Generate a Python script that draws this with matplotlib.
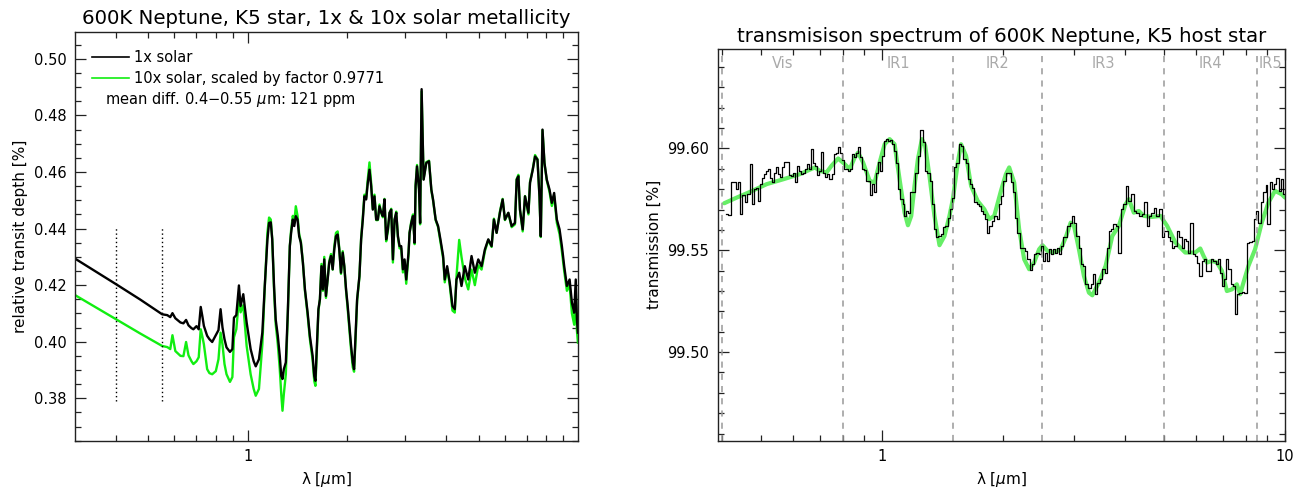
import matplotlib
matplotlib.use('Agg')
import matplotlib.pyplot as plt
from matplotlib.ticker import MultipleLocator, FixedLocator, NullFormatter, FormatStrFormatter
import numpy as np

# ---- left panel: model transit depth [%] (1x and scaled 10x solar) ----
wl_model = [0.300, 0.400, 0.473, 0.551, 0.571, 0.583, 0.592, 0.604, 0.626, 0.639,
            0.651, 0.662, 0.676, 0.685, 0.700, 0.711, 0.721, 0.730, 0.737, 0.754,
            0.766, 0.781, 0.801, 0.816, 0.828, 0.839, 0.851, 0.863, 0.884, 0.899,
            0.909, 0.924, 0.941, 0.952, 0.970, 0.993, 1.021, 1.043, 1.058, 1.082,
            1.108, 1.126, 1.148, 1.161, 1.175, 1.187, 1.202, 1.216, 1.234, 1.251,
            1.264, 1.275, 1.287, 1.305, 1.323, 1.342, 1.354, 1.370, 1.384, 1.399,
            1.416, 1.432, 1.449, 1.470, 1.491, 1.519, 1.543, 1.573, 1.591, 1.604,
            1.621, 1.638, 1.655, 1.673, 1.690, 1.706, 1.726, 1.747, 1.766, 1.788,
            1.809, 1.829, 1.851, 1.873, 1.894, 1.917, 1.940, 1.962, 1.986, 2.009,
            2.032, 2.057, 2.081, 2.100, 2.122, 2.145, 2.180, 2.206, 2.232, 2.257,
            2.285, 2.311, 2.338, 2.366, 2.393, 2.421, 2.450, 2.479, 2.507, 2.537,
            2.567, 2.596, 2.627, 2.658, 2.689, 2.721, 2.753, 2.785, 2.818, 2.851,
            2.884, 2.917, 2.952, 2.986, 3.021, 3.070, 3.092, 3.129, 3.167, 3.203,
            3.225, 3.257, 3.303, 3.328, 3.363, 3.410, 3.475, 3.541, 3.599, 3.642,
            3.709, 3.772, 3.834, 3.907, 3.952, 4.018, 4.092, 4.170, 4.238, 4.288,
            4.370, 4.441, 4.545, 4.655, 4.763, 4.874, 4.992, 5.108, 5.227, 5.353,
            5.478, 5.567, 5.673, 5.805, 5.916, 6.012, 6.157, 6.300, 6.447, 6.525,
            6.603, 6.677, 6.804, 6.915, 7.082, 7.161, 7.298, 7.417, 7.543, 7.649,
            7.719, 7.811, 7.920, 8.049, 8.203, 8.337, 8.472, 8.634, 8.799, 8.942,
            9.088, 9.261, 9.437, 9.590, 9.745, 9.850, 9.930, 10.00]

depth_1x = [0.4294, 0.4203, 0.4149, 0.4097, 0.4094, 0.4087, 0.4101, 0.4083, 0.4068, 0.4065,
            0.4077, 0.4058, 0.4048, 0.4044, 0.4055, 0.4044, 0.4123, 0.4087, 0.4056, 0.4021,
            0.4009, 0.3999, 0.4023, 0.4041, 0.4115, 0.4051, 0.4009, 0.3980, 0.3964, 0.3974,
            0.4085, 0.4094, 0.4199, 0.4126, 0.4168, 0.4068, 0.3974, 0.3931, 0.3913, 0.3938,
            0.4033, 0.4191, 0.4362, 0.4420, 0.4422, 0.4362, 0.4197, 0.4079, 0.4021, 0.3950,
            0.3879, 0.3868, 0.3903, 0.3927, 0.4103, 0.4338, 0.4385, 0.4432, 0.4409, 0.4444,
            0.4432, 0.4373, 0.4350, 0.4279, 0.4185, 0.4103, 0.4021, 0.3950, 0.3879, 0.3862,
            0.3985, 0.4115, 0.4150, 0.4267, 0.4185, 0.4291, 0.4162, 0.4221, 0.4279, 0.4303,
            0.4256, 0.4326, 0.4373, 0.4379, 0.4326, 0.4244, 0.4315, 0.4267, 0.4185, 0.4126,
            0.4056, 0.3985, 0.3927, 0.3903, 0.4021, 0.4150, 0.4232, 0.4362, 0.4432, 0.4514,
            0.4503, 0.4562, 0.4608, 0.4550, 0.4467, 0.4514, 0.4432, 0.4432, 0.4479, 0.4457,
            0.4444, 0.4503, 0.4362, 0.4397, 0.4456, 0.4467, 0.4291, 0.4432, 0.4456, 0.4373,
            0.4338, 0.4338, 0.4256, 0.4291, 0.4220, 0.4315, 0.4385, 0.4420, 0.4444, 0.4350,
            0.4550, 0.4620, 0.4538, 0.4420, 0.4893, 0.4573, 0.4632, 0.4638, 0.4538, 0.4503,
            0.4432, 0.4409, 0.4362, 0.4303, 0.4220, 0.4267, 0.4209, 0.4126, 0.4115, 0.4220,
            0.4244, 0.4197, 0.4267, 0.4220, 0.4303, 0.4244, 0.4291, 0.4267, 0.4326, 0.4362,
            0.4338, 0.4432, 0.4385, 0.4456, 0.4503, 0.4432, 0.4456, 0.4409, 0.4420, 0.4573,
            0.4585, 0.4467, 0.4397, 0.4514, 0.4456, 0.4562, 0.4608, 0.4655, 0.4644, 0.4514,
            0.4373, 0.4750, 0.4632, 0.4573, 0.4538, 0.4491, 0.4526, 0.4432, 0.4397, 0.4338,
            0.4267, 0.4197, 0.4220, 0.4138, 0.4103, 0.4220, 0.4079, 0.4032]

depth_10x = [0.4165, 0.4079, 0.4029, 0.3985, 0.3981, 0.3974, 0.4023, 0.3967, 0.3950, 0.3949,
             0.3999, 0.3952, 0.3931, 0.3921, 0.3931, 0.3945, 0.4044, 0.4016, 0.3991, 0.3903,
             0.3889, 0.3885, 0.3896, 0.3938, 0.4032, 0.3991, 0.3921, 0.3885, 0.3858, 0.3875,
             0.4016, 0.4044, 0.4150, 0.4104, 0.4129, 0.3985, 0.3885, 0.3833, 0.3809, 0.3833,
             0.3991, 0.4185, 0.4386, 0.4439, 0.4432, 0.4362, 0.4185, 0.4062, 0.3991, 0.3903,
             0.3815, 0.3756, 0.3815, 0.3885, 0.4095, 0.4340, 0.4395, 0.4445, 0.4420, 0.4479,
             0.4445, 0.4380, 0.4355, 0.4280, 0.4180, 0.4095, 0.4010, 0.3935, 0.3861, 0.3844,
             0.3975, 0.4110, 0.4150, 0.4275, 0.4180, 0.4300, 0.4155, 0.4225, 0.4285, 0.4310,
             0.4255, 0.4335, 0.4385, 0.4390, 0.4330, 0.4240, 0.4320, 0.4265, 0.4180, 0.4115,
             0.4045, 0.3970, 0.3910, 0.3894, 0.4010, 0.4145, 0.4230, 0.4365, 0.4440, 0.4520,
             0.4510, 0.4575, 0.4634, 0.4560, 0.4470, 0.4520, 0.4430, 0.4430, 0.4485, 0.4455,
             0.4440, 0.4505, 0.4355, 0.4390, 0.4455, 0.4470, 0.4280, 0.4430, 0.4460, 0.4370,
             0.4330, 0.4330, 0.4245, 0.4285, 0.4205, 0.4310, 0.4385, 0.4425, 0.4450, 0.4345,
             0.4555, 0.4625, 0.4540, 0.4415, 0.4885, 0.4575, 0.4635, 0.4640, 0.4535, 0.4500,
             0.4430, 0.4405, 0.4355, 0.4295, 0.4210, 0.4260, 0.4200, 0.4110, 0.4103, 0.4230,
             0.4360, 0.4300, 0.4225, 0.4185, 0.4255, 0.4200, 0.4270, 0.4255, 0.4320, 0.4360,
             0.4335, 0.4435, 0.4385, 0.4460, 0.4505, 0.4430, 0.4455, 0.4405, 0.4415, 0.4575,
             0.4590, 0.4465, 0.4390, 0.4515, 0.4450, 0.4565, 0.4610, 0.4660, 0.4645, 0.4510,
             0.4370, 0.4748, 0.4630, 0.4570, 0.4530, 0.4480, 0.4515, 0.4420, 0.4380, 0.4320,
             0.4250, 0.4180, 0.4200, 0.4100, 0.4060, 0.4180, 0.4040, 0.3997]

diff_range = [0.4, 0.55]

# ---- right panel: binned transmission [%] and smooth model ----
wl_bin = [0.4098, 0.4176, 0.4246, 0.4307, 0.4361, 0.4417, 0.4475, 0.4534, 0.4600, 0.4663,
          0.4732, 0.4792, 0.4842, 0.4902, 0.4959, 0.5009, 0.5067, 0.5125, 0.5190, 0.5248,
          0.5303, 0.5363, 0.5425, 0.5487, 0.5550, 0.5613, 0.5677, 0.5742, 0.5831, 0.5898,
          0.5966, 0.6034, 0.6103, 0.6173, 0.6243, 0.6315, 0.6387, 0.6460, 0.6534, 0.6609,
          0.6685, 0.6761, 0.6839, 0.6917, 0.6997, 0.7077, 0.7158, 0.7240, 0.7323, 0.7407,
          0.7492, 0.7577, 0.7664, 0.7752, 0.7841, 0.7931, 0.8022, 0.8114, 0.8207, 0.8301,
          0.8396, 0.8493, 0.8590, 0.8688, 0.8788, 0.8889, 0.8991, 0.9093, 0.9197, 0.9302,
          0.9409, 0.9517, 0.9625, 0.9736, 0.9847, 0.9960, 1.0074, 1.0190, 1.0306, 1.0425,
          1.0544, 1.0664, 1.0787, 1.0910, 1.1035, 1.1162, 1.1335, 1.1401, 1.1532, 1.1671,
          1.1830, 1.1997, 1.2178, 1.2345, 1.2508, 1.2702, 1.2870, 1.3041, 1.3243, 1.3418,
          1.3573, 1.3729, 1.3887, 1.4078, 1.4264, 1.4452, 1.4651, 1.4820, 1.4989, 1.5169,
          1.5377, 1.5598, 1.5822, 1.6013, 1.6214, 1.6428, 1.6637, 1.6845, 1.7061, 1.7288,
          1.7505, 1.7707, 1.7906, 1.8113, 1.8340, 1.8582, 1.8850, 1.9121, 1.9374, 1.9617,
          1.9876, 2.0148, 2.0415, 2.0733, 2.1007, 2.1246, 2.1526, 2.1826, 2.2110, 2.2454,
          2.2793, 2.3116, 2.3437, 2.3714, 2.4012, 2.4330, 2.4636, 2.4946, 2.5230, 2.5493,
          2.5783, 2.6081, 2.6379, 2.6684, 2.6987, 2.7299, 2.7606, 2.7952, 2.8321, 2.8681,
          2.9027, 2.9424, 2.9779, 3.0151, 3.0549, 3.0938, 3.1325, 3.1739, 3.2195, 3.2712,
          3.3160, 3.3560, 3.3988, 3.4435, 3.4932, 3.5428, 3.5921, 3.6354, 3.6766, 3.7192,
          3.7701, 3.8262, 3.8857, 3.9416, 3.9937, 4.0512, 4.1068, 4.1803, 4.2445, 4.3056,
          4.3726, 4.4377, 4.5015, 4.5640, 4.6286, 4.6951, 4.7572, 4.8255, 4.9085, 4.9710,
          5.0217, 5.0857, 5.1517, 5.2174, 5.2802, 5.3562, 5.4320, 5.5076, 5.5739, 5.6437,
          5.7183, 5.7911, 5.8636, 5.9343, 6.0086, 6.0881, 6.1716, 6.2459, 6.3182, 6.4047,
          6.4999, 6.5917, 6.6834, 6.7640, 6.8391, 6.9259, 7.0181, 7.0929, 7.1784, 7.2778,
          7.3739, 7.4456, 7.5524, 7.6507, 7.7698, 7.8724, 7.9764, 8.0910, 8.2073, 8.3255,
          8.4297, 8.5353, 8.6482, 8.7727, 8.8991, 9.0001, 9.0939, 9.2184, 9.3404, 9.4485,
          9.5710, 9.7199, 9.8310, 9.9400]

trans_bin = [99.5680, 99.5671, 99.5833, 99.5836, 99.5800, 99.5833, 99.5677, 99.5770, 99.5737, 99.5775,
             99.5926, 99.5726, 99.5800, 99.5808, 99.5742, 99.5825, 99.5857, 99.5874, 99.5890, 99.5898,
             99.5857, 99.5833, 99.5882, 99.5907, 99.5874, 99.5862, 99.5907, 99.5934, 99.5934, 99.5869,
             99.5865, 99.5882, 99.5833, 99.5915, 99.5890, 99.5874, 99.5882, 99.5898, 99.5923, 99.5898,
             99.5997, 99.5931, 99.5915, 99.5869, 99.5890, 99.5983, 99.5882, 99.5860, 99.5874, 99.5852,
             99.5852, 99.5874, 99.5972, 99.5980, 99.6005, 99.5977, 99.5944, 99.5898, 99.5898, 99.5890,
             99.5898, 99.5975, 99.5956, 99.5980, 99.6005, 99.5956, 99.5898, 99.5895, 99.5841, 99.5841,
             99.5770, 99.5825, 99.5784, 99.5882, 99.5934, 99.5890, 99.5964, 99.6037, 99.6046, 99.6037,
             99.6042, 99.6021, 99.5988, 99.5931, 99.5800, 99.5751, 99.5726, 99.5669, 99.5693, 99.5685,
             99.5784, 99.5784, 99.5882, 99.5964, 99.6092, 99.6030, 99.5890, 99.5882, 99.5841, 99.5726,
             99.5603, 99.5563, 99.5570, 99.5579, 99.5612, 99.5620, 99.5661, 99.5702, 99.5759, 99.5907,
             99.5931, 99.6021, 99.6013, 99.5948, 99.5931, 99.5849, 99.5825, 99.5808, 99.5735, 99.5726,
             99.5718, 99.5693, 99.5677, 99.5653, 99.5587, 99.5620, 99.5644, 99.5669, 99.5653, 99.5726,
             99.5767, 99.5841, 99.5882, 99.5882, 99.5833, 99.5784, 99.5661, 99.5587, 99.5513, 99.5513,
             99.5497, 99.5456, 99.5403, 99.5431, 99.5480, 99.5489, 99.5480, 99.5521, 99.5447, 99.5489,
             99.5447, 99.5505, 99.5480, 99.5505, 99.5489, 99.5513, 99.5480, 99.5521, 99.5563, 99.5563,
             99.5620, 99.5636, 99.5669, 99.5636, 99.5570, 99.5513, 99.5431, 99.5423, 99.5333, 99.5317,
             99.5333, 99.5382, 99.5284, 99.5341, 99.5358, 99.5407, 99.5390, 99.5513, 99.5595, 99.5603,
             99.5628, 99.5620, 99.5489, 99.5702, 99.5726, 99.5816, 99.5742, 99.5775, 99.5693, 99.5685,
             99.5669, 99.5677, 99.5737, 99.5620, 99.5669, 99.5685, 99.5710, 99.5669, 99.5702, 99.5563,
             99.5595, 99.5595, 99.5563, 99.5546, 99.5513, 99.5521, 99.5595, 99.5563, 99.5513, 99.5554,
             99.5546, 99.5489, 99.5636, 99.5480, 99.5472, 99.5440, 99.5374, 99.5447, 99.5456, 99.5398,
             99.5398, 99.5456, 99.5447, 99.5431, 99.5456, 99.5390, 99.5325, 99.5358, 99.5456, 99.5407,
             99.5333, 99.5325, 99.5185, 99.5284, 99.5292, 99.5295, 99.5292, 99.5538, 99.5541, 99.5546,
             99.5653, 99.5693, 99.5636, 99.5735, 99.5784, 99.5820, 99.5628, 99.5833, 99.5800, 99.5825,
             99.5857, 99.5792, 99.5849, 99.5775]

wl_smooth = [0.4058, 0.4361, 0.4705, 0.5175, 0.5690, 0.6254, 0.6812, 0.7009, 0.7281, 0.7492,
             0.7783, 0.8082, 0.8314, 0.8556, 0.8722, 0.8975, 0.9318, 0.9587, 0.9864, 1.0149,
             1.0442, 1.0744, 1.1054, 1.1374, 1.1596, 1.1817, 1.2040, 1.2277, 1.2558, 1.2797,
             1.3113, 1.3493, 1.3887, 1.4287, 1.4701, 1.4989, 1.5417, 1.5708, 1.6164, 1.6637,
             1.7277, 1.7939, 1.8456, 1.8990, 1.9729, 2.0296, 2.0683, 2.1281, 2.1894, 2.2531,
             2.3182, 2.3848, 2.4537, 2.5016, 2.5742, 2.6730, 2.7765, 2.8564, 2.9390, 2.9951,
             3.0810, 3.1700, 3.2618, 3.3255, 3.4530, 3.5880, 3.7276, 3.8704, 4.0210, 4.0970,
             4.2155, 4.3375, 4.4627, 4.6817, 4.9085, 5.0996, 5.3462, 5.6557, 5.9899, 6.1634,
             6.2813, 6.4047, 6.5884, 6.7788, 6.9739, 7.1752, 7.3824, 7.5952, 7.7395, 7.8870,
             8.1138, 8.4297, 8.7589, 9.0939, 9.4485, 9.8132, 10.000]

trans_smooth = [99.5731, 99.5759, 99.5787, 99.5825, 99.5849, 99.5874, 99.5907, 99.5890, 99.5882, 99.5915,
                99.5951, 99.5923, 99.5898, 99.5956, 99.5980, 99.5931, 99.5841, 99.5833, 99.5931, 99.6021,
                99.6046, 99.6021, 99.5849, 99.5685, 99.5623, 99.5669, 99.5816, 99.5948, 99.6046, 99.6013,
                99.5865, 99.5669, 99.5525, 99.5570, 99.5669, 99.5751, 99.5931, 99.6021, 99.5964, 99.5816,
                99.5742, 99.5702, 99.5653, 99.5669, 99.5792, 99.5874, 99.5907, 99.5833, 99.5603, 99.5456,
                99.5407, 99.5440, 99.5505, 99.5525, 99.5497, 99.5489, 99.5505, 99.5563, 99.5636, 99.5620,
                99.5505, 99.5374, 99.5292, 99.5279, 99.5341, 99.5423, 99.5570, 99.5620, 99.5726, 99.5751,
                99.5685, 99.5693, 99.5669, 99.5664, 99.5669, 99.5620, 99.5538, 99.5489, 99.5489, 99.5509,
                99.5472, 99.5440, 99.5448, 99.5440, 99.5399, 99.5300, 99.5308, 99.5333, 99.5284, 99.5341,
                99.5423, 99.5505, 99.5636, 99.5734, 99.5792, 99.5775, 99.5759]

band_edges = [0.4, 0.8, 1.5, 2.5, 5.0, 8.5]
band_names = ['Vis', 'IR1', 'IR2', 'IR3', 'IR4', 'IR5']

plt.rcParams['font.family'] = 'DejaVu Sans'
fig = plt.figure(figsize=(12.99, 4.88), dpi=100)
ax1 = fig.add_axes([0.0577, 0.0969, 0.3872, 0.8375])
ax2 = fig.add_axes([0.5525, 0.0969, 0.4367, 0.8033])


def style_axes(ax):
    for sp in ax.spines.values():
        sp.set_color('#222222')
        sp.set_linewidth(1.0)
    ax.tick_params(which='both', direction='in', top=True, right=True,
                   colors='#222222', labelsize=10.5, labelcolor='black')
    ax.tick_params(which='major', length=8, width=0.9, pad=6)
    ax.tick_params(which='minor', length=4, width=0.9)


# left panel
h10, = ax1.plot(wl_model, depth_10x, color='#11ee11', lw=1.7)
h1, = ax1.plot(wl_model, depth_1x, color='black', lw=1.7)
ax1.vlines(diff_range, 0.379, 0.441, colors='black', linestyles=(0, (1, 2)), lw=1.0)
ax1.set_xscale('log')
ax1.set_xlim(0.3, 10)
ax1.set_ylim(0.365, 0.5095)
ax1.xaxis.set_major_locator(FixedLocator([1]))
ax1.set_xticklabels(['1'])
ax1.xaxis.set_minor_locator(FixedLocator([0.4, 0.5, 0.6, 0.7, 0.8, 0.9, 2, 3, 4, 5, 6, 7, 8, 9]))
ax1.xaxis.set_minor_formatter(NullFormatter())
ax1.yaxis.set_major_locator(MultipleLocator(0.02))
ax1.yaxis.set_minor_locator(MultipleLocator(0.005))
ax1.yaxis.set_major_formatter(FormatStrFormatter('%.2f'))
style_axes(ax1)
ax1.set_title('600K Neptune, K5 star, 1x & 10x solar metallicity', fontsize=14.2, pad=6)
ax1.set_xlabel('λ [$\\mu$m]', fontsize=11)
ax1.set_ylabel('relative transit depth [%]', fontsize=11, labelpad=4)
leg = ax1.legend([h1, h10], ['1x solar', '10x solar, scaled by factor 0.9771'],
                 loc='upper left', bbox_to_anchor=(0.034, 0.955), frameon=False,
                 fontsize=10.5, handlelength=2.5, handletextpad=0.35, labelspacing=0.4,
                 borderpad=0, borderaxespad=0)
for lh in leg.get_lines():
    lh.set_linewidth(1.2)
ax1.text(0.06, 0.834, 'mean diff. 0.4$-$0.55 $\\mu$m: 121 ppm', transform=ax1.transAxes,
         fontsize=10.5, va='center', ha='left')

# right panel
ax2.plot(wl_smooth, trans_smooth, color='#66ee66', lw=3, solid_capstyle='round')
ax2.step(wl_bin, trans_bin, where='mid', color='black', lw=0.9)
xmin2, xmax2 = 0.391, 10
for e in band_edges:
    ax2.axvline(e, color='#999999', lw=1.1, ls=(0, (4, 4)))
ends = band_edges[1:] + [xmax2]
for lo, hi, name in zip(band_edges, ends, band_names):
    ax2.text(np.sqrt(lo * hi), 0.962, name, transform=ax2.get_xaxis_transform(),
             ha='center', va='center', color='#aaaaaa', fontsize=10.5)
ax2.set_xscale('log')
ax2.set_xlim(xmin2, xmax2)
ax2.set_ylim(99.4565, 99.649)
ax2.xaxis.set_major_locator(FixedLocator([1, 10]))
ax2.set_xticklabels(['1', '10'])
ax2.xaxis.set_minor_locator(FixedLocator([0.4, 0.5, 0.6, 0.7, 0.8, 0.9, 2, 3, 4, 5, 6, 7, 8, 9]))
ax2.xaxis.set_minor_formatter(NullFormatter())
ax2.yaxis.set_major_locator(MultipleLocator(0.05))
ax2.yaxis.set_minor_locator(MultipleLocator(0.01))
ax2.yaxis.set_major_formatter(FormatStrFormatter('%.2f'))
style_axes(ax2)
ax2.set_title('transmisison spectrum of 600K Neptune, K5 host star', fontsize=14.2, pad=5)
ax2.set_xlabel('λ [$\\mu$m]', fontsize=11)
ax2.set_ylabel('transmission [%]', fontsize=11, labelpad=4)

fig.savefig('out.png', dpi=100)
